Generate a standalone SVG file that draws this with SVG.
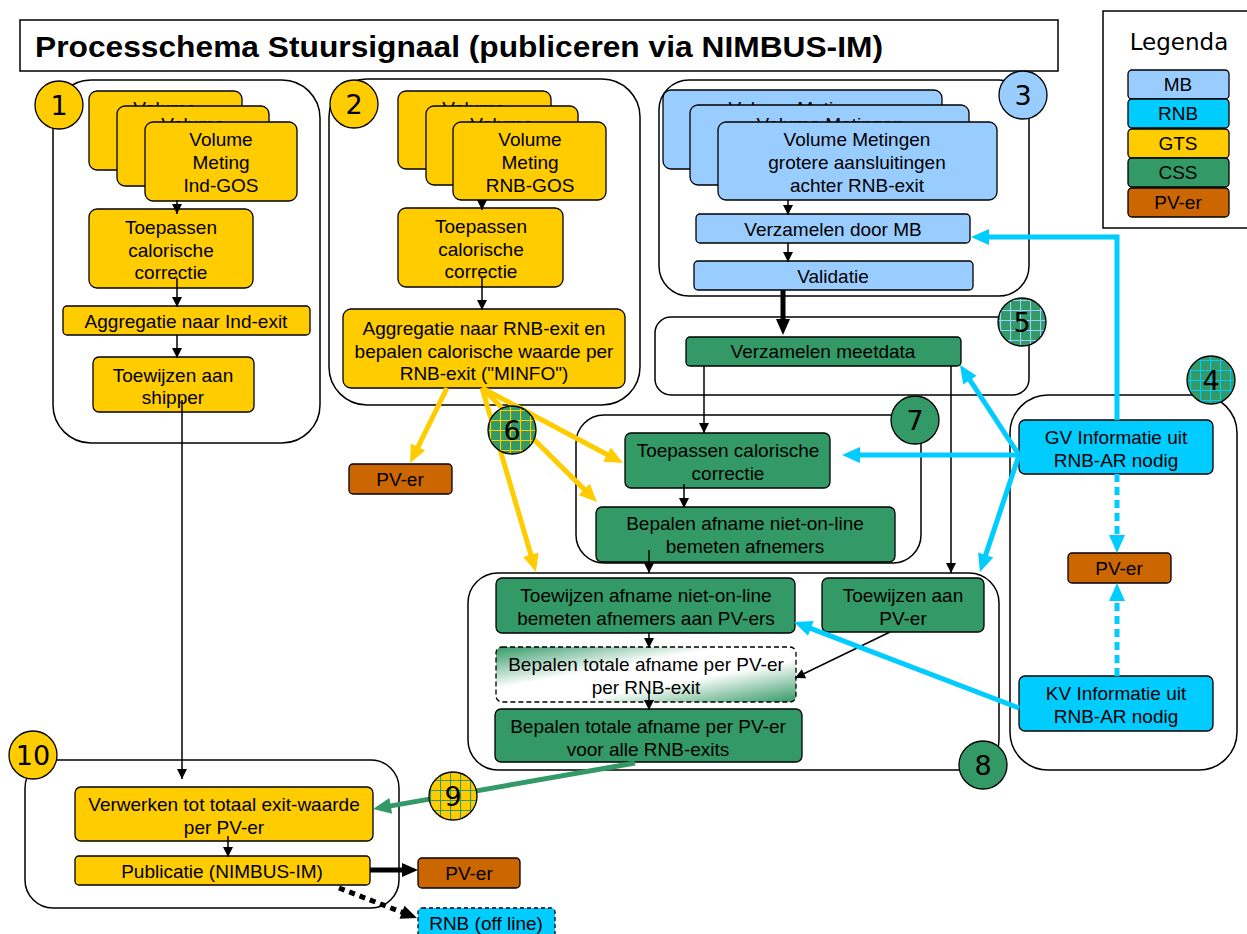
<svg xmlns="http://www.w3.org/2000/svg" width="1247" height="934" viewBox="0 0 1247 934">
<style>
text{font-family:"Liberation Sans",Arial,sans-serif;font-size:19px;fill:#000;text-anchor:middle}
.num{font-family:"DejaVu Sans",sans-serif;font-size:27px}
.cont{fill:none;stroke:#000;stroke-width:1.5}
.n{stroke:#000;stroke-width:1.3}
.gts{fill:#FFCC00}.mb{fill:#99CCFF}.rnb{fill:#00CCFF}.css{fill:#339966}.pv{fill:#CC6600}
.thin{fill:none;stroke:#000;stroke-width:1.5;marker-end:url(#ab)}
.y{fill:none;stroke:#FFCC00;stroke-width:5;marker-end:url(#aY)}
.c{fill:none;stroke:#00CCFF;stroke-width:5;marker-end:url(#aC)}
.g{fill:none;stroke:#339966;stroke-width:5;marker-end:url(#aG)}
.k{fill:none;stroke:#000;stroke-width:5;marker-end:url(#aK)}
.circ{stroke:#000;stroke-width:1.3}
</style>
<defs>
<marker id="ab" markerUnits="userSpaceOnUse" markerWidth="10" markerHeight="10" refX="10" refY="5" orient="auto" overflow="visible"><path d="M0,0 L10,5 L0,10 z" fill="#000"/></marker>
<marker id="aY" markerUnits="userSpaceOnUse" markerWidth="18" markerHeight="16" refX="10" refY="8" orient="auto" overflow="visible"><path d="M0,0 L18,8 L0,16 z" fill="#FFCC00"/></marker>
<marker id="aC" markerUnits="userSpaceOnUse" markerWidth="18" markerHeight="16" refX="10" refY="8" orient="auto" overflow="visible"><path d="M0,0 L18,8 L0,16 z" fill="#00CCFF"/></marker>
<marker id="aG" markerUnits="userSpaceOnUse" markerWidth="18" markerHeight="16" refX="10" refY="8" orient="auto" overflow="visible"><path d="M0,0 L18,8 L0,16 z" fill="#339966"/></marker>
<marker id="aK" markerUnits="userSpaceOnUse" markerWidth="16" markerHeight="14" refX="8" refY="7" orient="auto" overflow="visible"><path d="M0,0 L16,7 L0,14 z" fill="#000"/></marker>
<pattern id="pMB" patternUnits="userSpaceOnUse" width="10" height="10"><rect width="10" height="10" fill="#339966"/><path d="M0,0.5 H10 M0.5,0 V10" stroke="#99CCFF" stroke-width="1.2"/></pattern>
<pattern id="pRNB" patternUnits="userSpaceOnUse" width="10" height="10"><rect width="10" height="10" fill="#339966"/><path d="M0,0.5 H10 M0.5,0 V10" stroke="#00CCFF" stroke-width="1.2"/></pattern>
<pattern id="pGTS" patternUnits="userSpaceOnUse" width="10" height="10"><rect width="10" height="10" fill="#339966"/><path d="M0,0.5 H10 M0.5,0 V10" stroke="#FFCC00" stroke-width="1.2"/></pattern>
<pattern id="pY" patternUnits="userSpaceOnUse" width="10" height="10"><rect width="10" height="10" fill="#FFCC00"/><path d="M0,0.5 H10 M0.5,0 V10" stroke="#339966" stroke-width="1.2"/></pattern>
<linearGradient id="grad" x1="0" y1="0" x2="1" y2="1"><stop offset="0" stop-color="#339966"/><stop offset="0.38" stop-color="#fff"/><stop offset="0.62" stop-color="#fff"/><stop offset="1" stop-color="#339966"/></linearGradient>
</defs>
<rect width="1247" height="934" fill="#fff"/>

<g id="title">
<rect x="20" y="20" width="1038" height="51" fill="#fff" stroke="#000" stroke-width="1.5"/>
<text x="35" y="57" style="text-anchor:start;font-weight:bold;font-size:29px" textLength="848" lengthAdjust="spacingAndGlyphs">Processchema Stuursignaal (publiceren via NIMBUS-IM)</text>
</g>

<g id="legend">
<rect x="1103" y="11" width="160" height="217" fill="#fff" stroke="#000" stroke-width="1.5"/>
<text x="1179" y="50" style="font-family:'DejaVu Sans',sans-serif;font-size:23px">Legenda</text>
<rect class="n mb" x="1128" y="70" width="101" height="29" rx="4"/><text x="1178" y="91">MB</text>
<rect class="n rnb" x="1128" y="99" width="101" height="29" rx="4"/><text x="1178" y="120">RNB</text>
<rect class="n gts" x="1128" y="129" width="101" height="29" rx="4"/><text x="1178" y="150">GTS</text>
<rect class="n css" x="1128" y="158" width="101" height="29" rx="4"/><text x="1178" y="179">CSS</text>
<rect class="n pv" x="1128" y="188" width="101" height="29" rx="4"/><text x="1178" y="209">PV-er</text>
</g>

<g id="containers">
<rect class="cont" x="53" y="80" width="267" height="363" rx="38"/>
<rect class="cont" x="329" y="79" width="311" height="326" rx="38"/>
<rect class="cont" x="659" y="80" width="370" height="216" rx="30"/>
<rect class="cont" x="655" y="317" width="374" height="78" rx="16"/>
<rect class="cont" x="576" y="415" width="345" height="148" rx="28"/>
<rect class="cont" x="468" y="573" width="531" height="197" rx="30"/>
<rect class="cont" x="1010" y="395" width="227" height="375" rx="38"/>
<rect class="cont" x="25" y="760" width="374" height="148" rx="28"/>
</g>

<g id="group1">
<g id="n1a"><rect class="n gts" x="89" y="91" width="153" height="79" rx="8"/><text x="165" y="115">Volume</text></g>
<g id="n1b"><rect class="n gts" x="117" y="106" width="152" height="80" rx="8"/><text x="193" y="131">Volume</text></g>
<g id="n1c"><rect class="n gts" x="145" y="122" width="152" height="79" rx="8"/><text x="221" y="146">Volume</text><text x="221" y="169">Meting</text><text x="221" y="192">Ind-GOS</text></g>
<g id="n1d"><rect class="n gts" x="89" y="209" width="164" height="79" rx="8"/><text x="171" y="234">Toepassen</text><text x="171" y="257">calorische</text><text x="171" y="279">correctie</text></g>
<g id="n1e"><rect class="n gts" x="63" y="306" width="247" height="29" rx="4"/><text x="186" y="328">Aggregatie naar Ind-exit</text></g>
<g id="n1f"><rect class="n gts" x="93" y="357" width="161" height="55" rx="6"/><text x="173" y="382">Toewijzen aan</text><text x="173" y="404">shipper</text></g>
</g>

<g id="group2">
<g id="n2a"><rect class="n gts" x="398" y="91" width="153" height="78" rx="8"/><text x="474" y="115">Volume</text></g>
<g id="n2b"><rect class="n gts" x="426" y="106" width="152" height="79" rx="8"/><text x="502" y="131">Volume</text></g>
<g id="n2c"><rect class="n gts" x="453" y="122" width="153" height="78" rx="8"/><text x="530" y="146">Volume</text><text x="530" y="169">Meting</text><text x="530" y="192">RNB-GOS</text></g>
<g id="n2d"><rect class="n gts" x="398" y="208" width="165" height="79" rx="8"/><text x="481" y="233">Toepassen</text><text x="481" y="256">calorische</text><text x="481" y="278">correctie</text></g>
<g id="n2e"><rect class="n gts" x="343" y="309" width="282" height="79" rx="8"/><text x="484" y="335">Aggregatie naar RNB-exit en</text><text x="484" y="358">bepalen calorische waarde per</text><text x="484" y="380">RNB-exit ("MINFO")</text></g>
<g id="n2f"><rect class="n pv" x="349" y="464" width="103" height="30" rx="4"/><text x="400" y="486">PV-er</text></g>
</g>

<g id="group3">
<g id="n3a"><rect class="n mb" x="663" y="90" width="279" height="79" rx="8"/><text x="802" y="115">Volume Metingen</text></g>
<g id="n3b"><rect class="n mb" x="690" y="105" width="279" height="80" rx="8"/><text x="830" y="131">Volume Metingen</text></g>
<g id="n3c"><rect class="n mb" x="718" y="122" width="279" height="78" rx="8"/><text x="857" y="146">Volume Metingen</text><text x="857" y="169">grotere aansluitingen</text><text x="857" y="192">achter RNB-exit</text></g>
<g id="n3d"><rect class="n mb" x="696" y="214" width="274" height="29" rx="4"/><text x="833" y="236">Verzamelen door MB</text></g>
<g id="n3e"><rect class="n mb" x="694" y="261" width="279" height="29" rx="4"/><text x="833" y="283">Validatie</text></g>
</g>

<g id="group5">
<g id="n5a"><rect class="n css" x="686" y="337" width="275" height="29" rx="4"/><text x="823" y="358">Verzamelen meetdata</text></g>
</g>

<g id="group7">
<g id="n7a"><rect class="n css" x="625" y="433" width="205" height="55" rx="6"/><text x="728" y="457">Toepassen calorische</text><text x="728" y="480">correctie</text></g>
<g id="n7b"><rect class="n css" x="596" y="507" width="299" height="55" rx="6"/><text x="745" y="530">Bepalen afname niet-on-line</text><text x="745" y="553">bemeten afnemers</text></g>
</g>

<g id="group8">
<g id="n8a"><rect class="n css" x="496" y="578" width="299" height="55" rx="6"/><text x="646" y="602">Toewijzen afname niet-on-line</text><text x="646" y="625">bemeten afnemers aan PV-ers</text></g>
<g id="n8b"><rect class="n css" x="822" y="578" width="162" height="54" rx="6"/><text x="903" y="602">Toewijzen aan</text><text x="903" y="625">PV-er</text></g>
<g id="n8c"><rect x="496" y="647" width="300" height="55" rx="6" fill="url(#grad)" stroke="#000" stroke-width="1.3" stroke-dasharray="5,3"/><text x="646" y="671">Bepalen totale afname per PV-er</text><text x="646" y="694">per RNB-exit</text></g>
<g id="n8d"><rect class="n css" x="495" y="709" width="307" height="53" rx="6"/><text x="648" y="733">Bepalen totale afname per PV-er</text><text x="648" y="756">voor alle RNB-exits</text></g>
</g>

<g id="group4">
<g id="n4a"><rect class="n rnb" x="1019" y="420" width="194" height="54" rx="6"/><text x="1116" y="444">GV Informatie uit</text><text x="1116" y="467">RNB-AR nodig</text></g>
<g id="n4b"><rect class="n pv" x="1068" y="553" width="103" height="30" rx="4"/><text x="1119" y="575">PV-er</text></g>
<g id="n4c"><rect class="n rnb" x="1019" y="676" width="194" height="55" rx="6"/><text x="1116" y="700">KV Informatie uit</text><text x="1116" y="723">RNB-AR nodig</text></g>
</g>

<g id="group10">
<g id="n10a"><rect class="n gts" x="75" y="787" width="298" height="54" rx="6"/><text x="224" y="811">Verwerken tot totaal exit-waarde</text><text x="224" y="834">per PV-er</text></g>
<g id="n10b"><rect class="n gts" x="75" y="856" width="295" height="29" rx="4"/><text x="222" y="878">Publicatie (NIMBUS-IM)</text></g>
<g id="n10c"><rect class="n pv" x="418" y="858" width="102" height="30" rx="4"/><text x="469" y="880">PV-er</text></g>
<g id="n10d"><rect class="rnb" x="418" y="908" width="137" height="32" rx="4" stroke="#000" stroke-width="1.3" stroke-dasharray="4,3"/><text x="486" y="930">RNB (off line)</text></g>
</g>

<g id="connectors">
<path class="thin" d="M177,200 V214"/>
<path class="thin" d="M177,278 V307"/>
<path class="thin" d="M177,335 V358"/>
<path class="thin" d="M182,400 V779"/>
<path class="thin" d="M482,200 V210"/>
<path class="thin" d="M482,278 V310"/>
<path class="thin" d="M788,200 V215"/>
<path class="thin" d="M788,243 V262"/>
<path class="thin" d="M704,366 V433"/>
<path class="thin" d="M951,366 V573"/>
<path class="thin" d="M684,484 V508"/>
<path class="thin" d="M649,550 V573"/>
<path class="thin" d="M649,633 V648"/>
<path class="thin" d="M649,690 V710"/>
<path class="thin" d="M890,632 L795,678"/>
<path class="thin" d="M228,836 V857"/>
<path class="y" d="M447,388 L413.6,455.9"/>
<path class="y" d="M482,388 L615.9,459.3"/>
<path class="y" d="M482,388 L591.3,496.4"/>
<path class="y" d="M482,388 L533.7,564.3"/>
<path class="c" d="M1117,420 V237 H979"/>
<path class="c" d="M1019,455 H850"/>
<path class="c" d="M1019,455 L964.4,371.7"/>
<path class="c" d="M1019,455 L982.5,564.4"/>
<path class="c" d="M1019,708 L801.5,624.8"/>
<path class="c" d="M1117,474 V545" stroke-dasharray="8,5"/>
<path class="c" d="M1117,676 V591" stroke-dasharray="8,5"/>
<path class="g" d="M635,763 L380.9,807.6"/>
<path class="k" d="M783,290 V327"/>
<path class="k" d="M370,870 H410"/>
<path class="k" d="M339,888 L409.5,915.1" stroke-dasharray="6,5"/>
</g>

<g id="badges">
<g id="b1"><circle class="circ gts" cx="59" cy="105" r="24"/><text class="num" x="59" y="115">1</text></g>
<g id="b2"><circle class="circ gts" cx="354" cy="104" r="24"/><text class="num" x="354" y="114">2</text></g>
<g id="b3"><circle class="circ mb" cx="1023" cy="95" r="24"/><text class="num" x="1023" y="105">3</text></g>
<g id="b4"><circle class="circ" cx="1211" cy="380" r="24" fill="url(#pRNB)"/><text class="num" x="1211" y="390">4</text></g>
<g id="b5"><circle class="circ" cx="1022" cy="322" r="24" fill="url(#pMB)"/><text class="num" x="1022" y="332">5</text></g>
<g id="b6"><circle class="circ" cx="512" cy="430" r="24" fill="url(#pGTS)"/><text class="num" x="512" y="440">6</text></g>
<g id="b7"><circle class="circ css" cx="915" cy="420" r="24"/><text class="num" x="915" y="430">7</text></g>
<g id="b8"><circle class="circ css" cx="983" cy="765" r="24"/><text class="num" x="983" y="775">8</text></g>
<g id="b9"><circle class="circ" cx="453" cy="796" r="24" fill="url(#pY)"/><text class="num" x="453" y="806">9</text></g>
<g id="b10"><circle class="circ gts" cx="33" cy="755" r="24"/><text class="num" x="33" y="765">10</text></g>
</g>
</svg>
